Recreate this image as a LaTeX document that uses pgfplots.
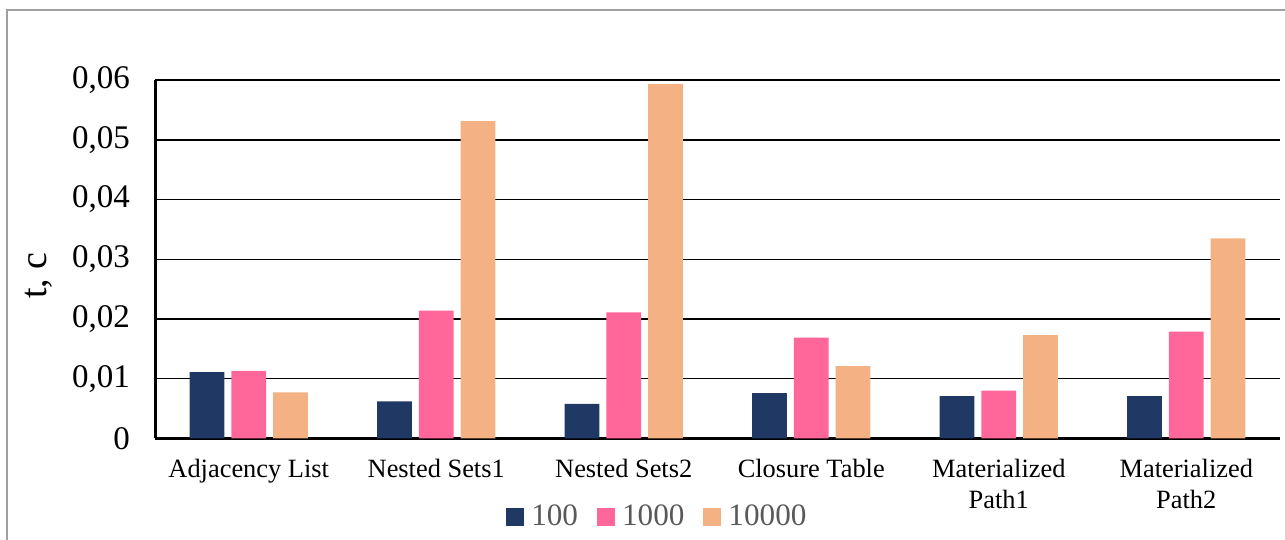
\documentclass[border=0pt]{standalone}
\usepackage{fontspec}
\setmainfont{Liberation Serif}
\usepackage{pgfplots}
\pgfplotsset{compat=1.18}
\definecolor{cNavy}{HTML}{203864}
\definecolor{cPink}{HTML}{FF6699}
\definecolor{cPeach}{HTML}{F4B183}
\definecolor{cLeg}{HTML}{595959}
\definecolor{cFrame}{HTML}{A0A0A0}
\begin{document}
\begin{tikzpicture}[x=1pt,y=1pt]
\useasboundingbox (0,0) rectangle (642.5,270);
\draw[color=cFrame, line width=0.6pt] (3.5,-5) -- (3.5,265) -- (650,265);
\begin{axis}[
  at={(77.5pt,50.75pt)}, anchor=south west,
  width=562.5pt, height=179.25pt, scale only axis,
  xmin=-0.5, xmax=5.5, ymin=0, ymax=0.06,
  ybar=3.5pt, bar width=17.35pt,
  xtick={0,1,2,3,4,5},
  xticklabels={Adjacency List, Nested Sets1, Nested Sets2, Closure Table, {Materialized\\Path1}, {Materialized\\Path2}},
  xticklabel style={align=center, font=\fontsize{13.2}{15.5}\selectfont, anchor=north, yshift=-6.8pt},
  ytick={0,0.01,0.02,0.03,0.04,0.05,0.06},
  yticklabels={0,{0,01},{0,02},{0,03},{0,04},{0,05},{0,06}},
  scaled y ticks=false,
  yticklabel style={font=\fontsize{16.5}{18}\selectfont, xshift=-9pt},
  major tick length=0pt,
  ymajorgrids, grid style={black, line width=0.75pt},
  axis x line*=bottom, axis y line*=left,
  axis line style={line width=1.5pt, black, -},
  ylabel={t, c},
  ylabel style={at={(axis description cs:-0.103,0.455)}, anchor=center, font=\fontsize{19}{21}\selectfont},
  legend columns=3,
  legend style={at={(axis description cs:0.447,-0.219)}, anchor=center, draw=none, fill=none,
    font=\fontsize{15.6}{17}\selectfont, text=cLeg,
    nodes={inner sep=1.5pt},
    /tikz/every odd column/.append style={column sep=2pt},
    /tikz/every even column/.append style={column sep=8pt}},
  legend image code/.code={\fill[#1, draw=none] (0pt,-4.5pt) rectangle (9pt,4.5pt);},
]
\addplot[fill=cNavy, draw=none] coordinates {(0,0.0111) (1,0.0062) (2,0.0058) (3,0.0076) (4,0.0071) (5,0.0071)};
\addplot[fill=cPink, draw=none] coordinates {(0,0.0113) (1,0.0214) (2,0.0211) (3,0.0169) (4,0.0080) (5,0.0179)};
\addplot[fill=cPeach, draw=none] coordinates {(0,0.0077) (1,0.0531) (2,0.0593) (3,0.0121) (4,0.0173) (5,0.0335)};
\legend{100,1000,10000}
\end{axis}
\end{tikzpicture}
\end{document}
